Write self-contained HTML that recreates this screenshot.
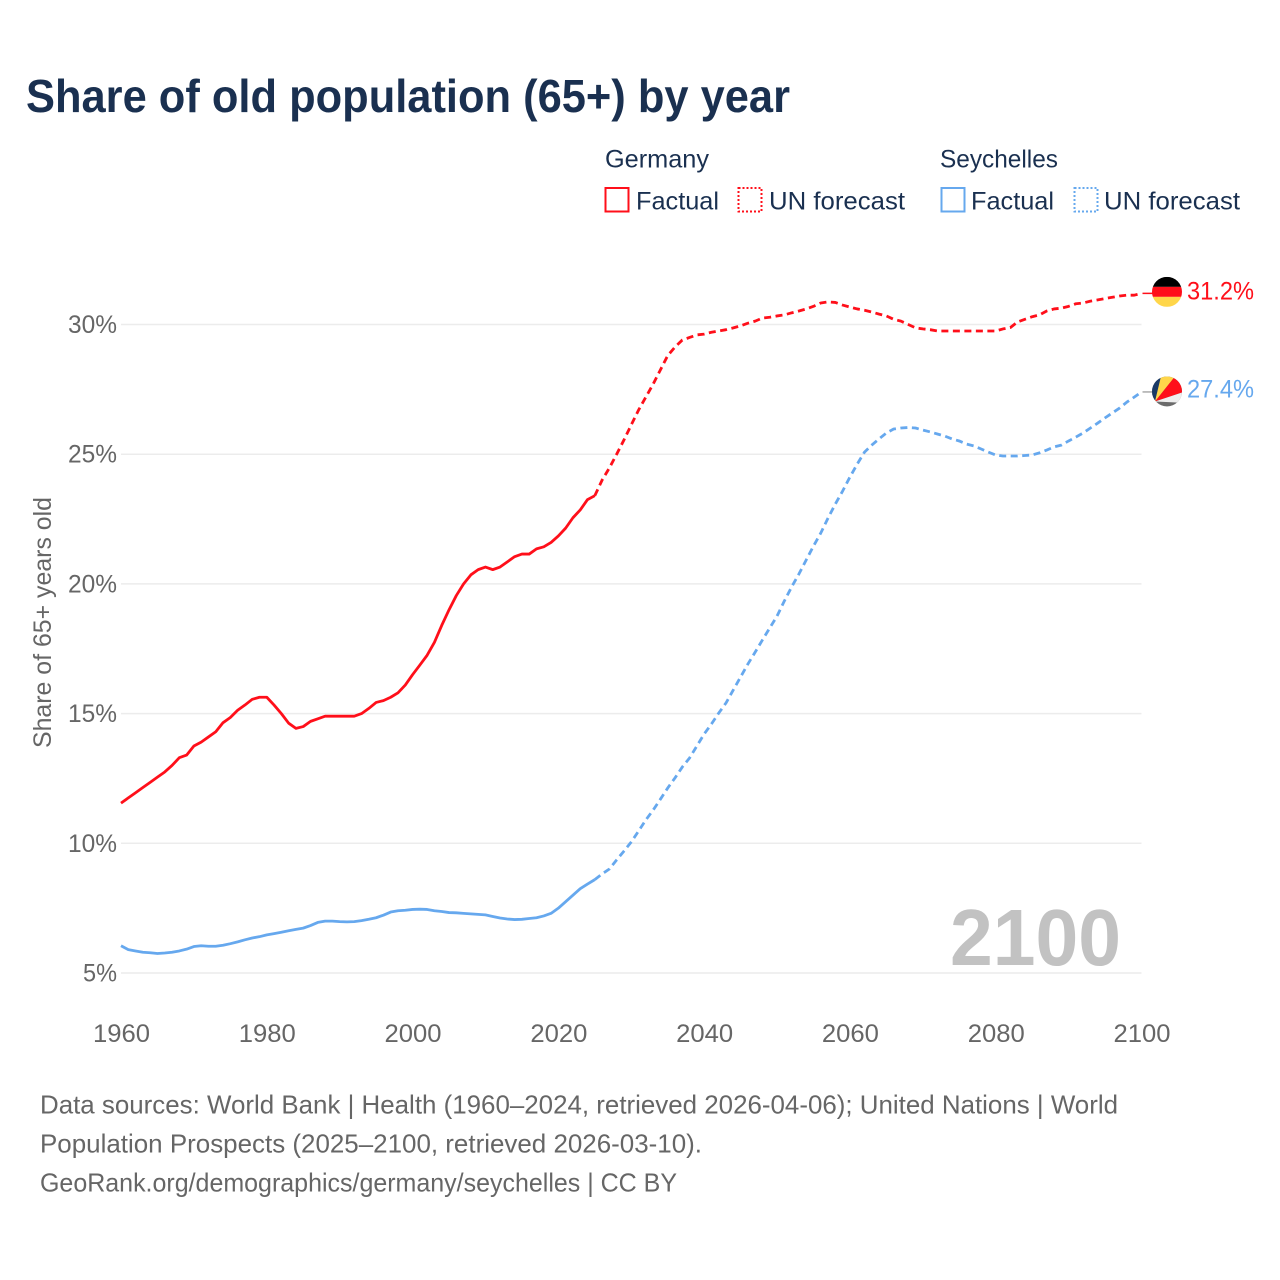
<!DOCTYPE html>
<html lang="en">
<head>
<meta charset="utf-8">
<title>Share of old population (65+) by year</title>
<style>
html,body{margin:0;padding:0;background:#fff;}
svg{display:block;}
text{font-family:"Liberation Sans",sans-serif;}
</style>
</head>
<body>
<svg id="chart" width="1280" height="1280" viewBox="0 0 1280 1280">
  <defs>
    <clipPath id="flag-clip"><circle cx="0" cy="0" r="15"/></clipPath>
  </defs>
  <text x="26" y="112" font-size="46" font-weight="700" fill="#1a3050" textLength="764" lengthAdjust="spacingAndGlyphs">Share of old population (65+) by year</text>

  <g>
    <text x="605" y="167.5" font-size="25" fill="#1a3050" textLength="104" lengthAdjust="spacingAndGlyphs">Germany</text>
    <rect x="605.5" y="188" width="23" height="23.5" fill="none" stroke="#ff0f1a" stroke-width="2"/>
    <text x="636" y="209.5" font-size="25" fill="#1a3050" textLength="83" lengthAdjust="spacingAndGlyphs">Factual</text>
    <rect x="738.5" y="188" width="23" height="23.5" fill="none" stroke="#ff0f1a" stroke-width="2" stroke-dasharray="2 2"/>
    <text x="769" y="209.5" font-size="25" fill="#1a3050" textLength="136" lengthAdjust="spacingAndGlyphs">UN forecast</text>
    <text x="940" y="167.5" font-size="25" fill="#1a3050" textLength="118" lengthAdjust="spacingAndGlyphs">Seychelles</text>
    <rect x="941.5" y="188" width="23" height="23.5" fill="none" stroke="#66a8ee" stroke-width="2"/>
    <text x="971" y="209.5" font-size="25" fill="#1a3050" textLength="83" lengthAdjust="spacingAndGlyphs">Factual</text>
    <rect x="1074.5" y="188" width="23" height="23.5" fill="none" stroke="#66a8ee" stroke-width="2" stroke-dasharray="2 2"/>
    <text x="1104" y="209.5" font-size="25" fill="#1a3050" textLength="136" lengthAdjust="spacingAndGlyphs">UN forecast</text>
  </g>

  <g id="grid"></g>
  <g id="yticks"></g>
  <g id="xticks"></g>

  <text transform="translate(51 748) rotate(-90)" x="0" y="0" font-size="25" fill="#666" textLength="251" lengthAdjust="spacingAndGlyphs">Share of 65+ years old</text>

  <text x="950" y="965" font-size="80" font-weight="700" fill="#c2c2c2" textLength="171" lengthAdjust="spacingAndGlyphs">2100</text>

  <g id="series"></g>

  <g id="flag-germany" clip-path="url(#flag-clip)">
    <rect x="-15" y="-15" width="30" height="10" fill="#000"/>
    <rect x="-15" y="-5" width="30" height="10" fill="#ff0f1a"/>
    <rect x="-15" y="5" width="30" height="10" fill="#ffd64a"/>
  </g>
  <g id="flag-seychelles" clip-path="url(#flag-clip)">
    <rect x="-15" y="-15" width="30" height="30" fill="#6b6b6b"/>
    <polygon points="-12,10 -15,7 -15,-15 -6,-15" fill="#1a3a66"/>
    <polygon points="-12,10 -6,-15 8,-15" fill="#ffd64a"/>
    <polygon points="-12,10 8,-15 15,-15 15,1" fill="#ff0f1a"/>
    <polygon points="-12,10 15,1 15,12 10,11" fill="#eeeeee"/>
  </g>
  <text id="label-germany" x="1187" font-size="25" fill="#ff0f1a" textLength="67" lengthAdjust="spacingAndGlyphs"></text>
  <text id="label-seychelles" x="1187" font-size="25" fill="#66a8ee" textLength="67" lengthAdjust="spacingAndGlyphs"></text>

  <g>
    <text x="40" y="1113.5" font-size="26" fill="#666" textLength="1078" lengthAdjust="spacingAndGlyphs">Data sources: World Bank | Health (1960–2024, retrieved 2026-04-06); United Nations | World</text>
    <text x="40" y="1152.5" font-size="26" fill="#666" textLength="662" lengthAdjust="spacingAndGlyphs">Population Prospects (2025–2100, retrieved 2026-03-10).</text>
    <text x="40" y="1191.5" font-size="26" fill="#666" textLength="637" lengthAdjust="spacingAndGlyphs">GeoRank.org/demographics/germany/seychelles | CC BY</text>
  </g>
</svg>
<script>
const yTickValues = [5, 10, 15, 20, 25, 30];
const xTickValues = [1960, 1980, 2000, 2020, 2040, 2060, 2080, 2100];
const factualStartYear = 1960;
const forecastStartYear = 2025;

const germanyFactual = [
  11.55, 11.75, 11.95, 12.15, 12.35, 12.55, 12.75, 13.0, 13.3, 13.4,
  13.75, 13.9, 14.1, 14.3, 14.65, 14.85, 15.13, 15.33, 15.55, 15.63,
  15.63, 15.33, 15.0, 14.63, 14.43, 14.5, 14.7, 14.8, 14.9, 14.9,
  14.9, 14.9, 14.9, 15.0, 15.2, 15.43, 15.5, 15.63, 15.8, 16.1,
  16.5, 16.87, 17.25, 17.75, 18.4, 19.0, 19.55, 20.0, 20.35, 20.55,
  20.65, 20.55, 20.65, 20.85, 21.05, 21.15, 21.15, 21.35, 21.43, 21.6,
  21.85, 22.15, 22.55, 22.85, 23.25, 23.4
];
const germanyForecast = [
  23.4, 24.0, 24.47, 25.0, 25.55,
  26.13, 26.7, 27.2, 27.7, 28.25, 28.8, 29.13, 29.4, 29.5, 29.6,
  29.63, 29.7, 29.75, 29.8, 29.87, 29.95, 30.05, 30.13, 30.25, 30.28,
  30.33, 30.37, 30.45, 30.52, 30.6, 30.7, 30.83, 30.87, 30.85, 30.75,
  30.67, 30.6, 30.55, 30.48, 30.4, 30.33, 30.2, 30.13, 30.0, 29.87,
  29.83, 29.8, 29.75, 29.75, 29.75, 29.75, 29.75, 29.75, 29.75, 29.75,
  29.75, 29.83, 29.88, 30.1, 30.2, 30.3, 30.37, 30.52, 30.6, 30.63,
  30.7, 30.8, 30.83, 30.9, 30.95, 31.0, 31.05, 31.1, 31.13, 31.13,
  31.2
];
const seychellesFactual = [
  6.05, 5.9, 5.85, 5.8, 5.78, 5.75, 5.77, 5.8, 5.85, 5.92,
  6.02, 6.05, 6.03, 6.03, 6.07, 6.13, 6.2, 6.28, 6.35, 6.4,
  6.47, 6.52, 6.57, 6.63, 6.68, 6.73, 6.83, 6.95, 7.0, 7.0,
  6.98, 6.97, 6.98, 7.02, 7.07, 7.13, 7.23, 7.35, 7.4, 7.42,
  7.45, 7.46, 7.45, 7.4, 7.37, 7.33, 7.32, 7.3, 7.28, 7.26,
  7.24, 7.18, 7.12, 7.08, 7.06, 7.07, 7.1, 7.13, 7.2, 7.3,
  7.5, 7.75, 8.0, 8.25, 8.43, 8.6
];
const seychellesForecast = [
  8.6, 8.82, 9.01, 9.36, 9.7,
  10.05, 10.47, 10.9, 11.28, 11.7, 12.13, 12.52, 12.94, 13.29, 13.75,
  14.21, 14.6, 15.02, 15.41, 15.91, 16.41, 16.91, 17.37, 17.84, 18.3,
  18.76, 19.34, 19.88, 20.38, 20.92, 21.46, 21.96, 22.54, 23.08, 23.58,
  24.12, 24.62, 25.08, 25.35, 25.59, 25.82, 25.97, 26.01, 26.03, 26.01,
  25.93, 25.86, 25.78, 25.7, 25.59, 25.51, 25.39, 25.32, 25.2, 25.08,
  24.97, 24.93, 24.93, 24.93, 24.95, 24.97, 25.05, 25.16, 25.28, 25.35,
  25.51, 25.66, 25.82, 26.01, 26.2, 26.4, 26.59, 26.78, 27.01, 27.2,
  27.4
];

const SVG_NS = 'http://www.w3.org/2000/svg';
function xScale(year) { return 121 + (year - 1960) * (1141.5 - 121) / 140; }
function yScale(pct) { return 973 - (pct - 5) * (973 - 324.5) / 25; }
function make(tag, attrs) {
  const el = document.createElementNS(SVG_NS, tag);
  Object.keys(attrs).forEach(function (k) { el.setAttribute(k, attrs[k]); });
  return el;
}
function pathFrom(values, startYear) {
  return values.map(function (v, i) {
    return (i ? 'L' : 'M') + xScale(startYear + i).toFixed(2) + ' ' + yScale(v).toFixed(2);
  }).join(' ');
}

const gridGroup = document.getElementById('grid');
const yTickGroup = document.getElementById('yticks');
const xTickGroup = document.getElementById('xticks');
const seriesGroup = document.getElementById('series');

yTickValues.forEach(function (t) {
  const line = make('line', { x1: xScale(1960), x2: xScale(2100), y1: yScale(t), y2: yScale(t), stroke: '#ececec', 'stroke-width': 1.5 });
  
  
  gridGroup.appendChild(line);
  const label = make('text', { x: 117, y: yScale(t) + 8.5, 'font-size': 25, fill: '#666', 'text-anchor': 'end', textLength: t < 10 ? 34 : 49, lengthAdjust: 'spacingAndGlyphs' });
  
  
  label.textContent = t + '%';
  yTickGroup.appendChild(label);
});

xTickValues.forEach(function (t) {
  const label = make('text', { x: xScale(t) + 0.5, y: 1042, 'font-size': 25, fill: '#666', 'text-anchor': 'middle', textLength: 57, lengthAdjust: 'spacingAndGlyphs' });
  
  
  label.textContent = t;
  xTickGroup.appendChild(label);
});

function addLine(values, startYear, color, dashed, name) {
  const p = make('path', { d: pathFrom(values, startYear), fill: 'none', stroke: color, 'stroke-width': 2.8, 'stroke-linejoin': 'round' });
  if (dashed) { p.setAttribute('stroke-dasharray', '7 4.5'); }
  
  
  seriesGroup.appendChild(p);
}
addLine(germanyFactual, factualStartYear, '#ff0f1a', false, 'germany-factual-line');
addLine(germanyForecast, forecastStartYear, '#ff0f1a', true, 'germany-forecast-line');
addLine(seychellesFactual, factualStartYear, '#66a8ee', false, 'seychelles-factual-line');
addLine(seychellesForecast, forecastStartYear, '#66a8ee', true, 'seychelles-forecast-line');

const germanyLast = germanyForecast[germanyForecast.length - 1];
const seychellesLast = seychellesForecast[seychellesForecast.length - 1];

function addConnector(value, color, name) {
  const c = make('line', { x1: xScale(2100) + 1, x2: xScale(2100) + 12, y1: yScale(value), y2: yScale(value), stroke: color, 'stroke-width': 1.5 });
  
  
  seriesGroup.appendChild(c);
}
addConnector(germanyLast, '#ff0f1a', 'germany-flag-connector');
addConnector(seychellesLast, '#aaaaaa', 'seychelles-flag-connector');

document.getElementById('flag-germany').setAttribute('transform', 'translate(' + (xScale(2100) + 25.5) + ' ' + (yScale(germanyLast) - 1.5) + ')');
document.getElementById('flag-seychelles').setAttribute('transform', 'translate(' + (xScale(2100) + 25.5) + ' ' + (yScale(seychellesLast) - 0.5) + ')');

const germanyLabel = document.getElementById('label-germany');
germanyLabel.setAttribute('y', yScale(germanyLast) + 6);
germanyLabel.textContent = germanyLast.toFixed(1) + '%';
const seychellesLabel = document.getElementById('label-seychelles');
seychellesLabel.setAttribute('y', yScale(seychellesLast) + 5.5);
seychellesLabel.textContent = seychellesLast.toFixed(1) + '%';
</script>
</body>
</html>
